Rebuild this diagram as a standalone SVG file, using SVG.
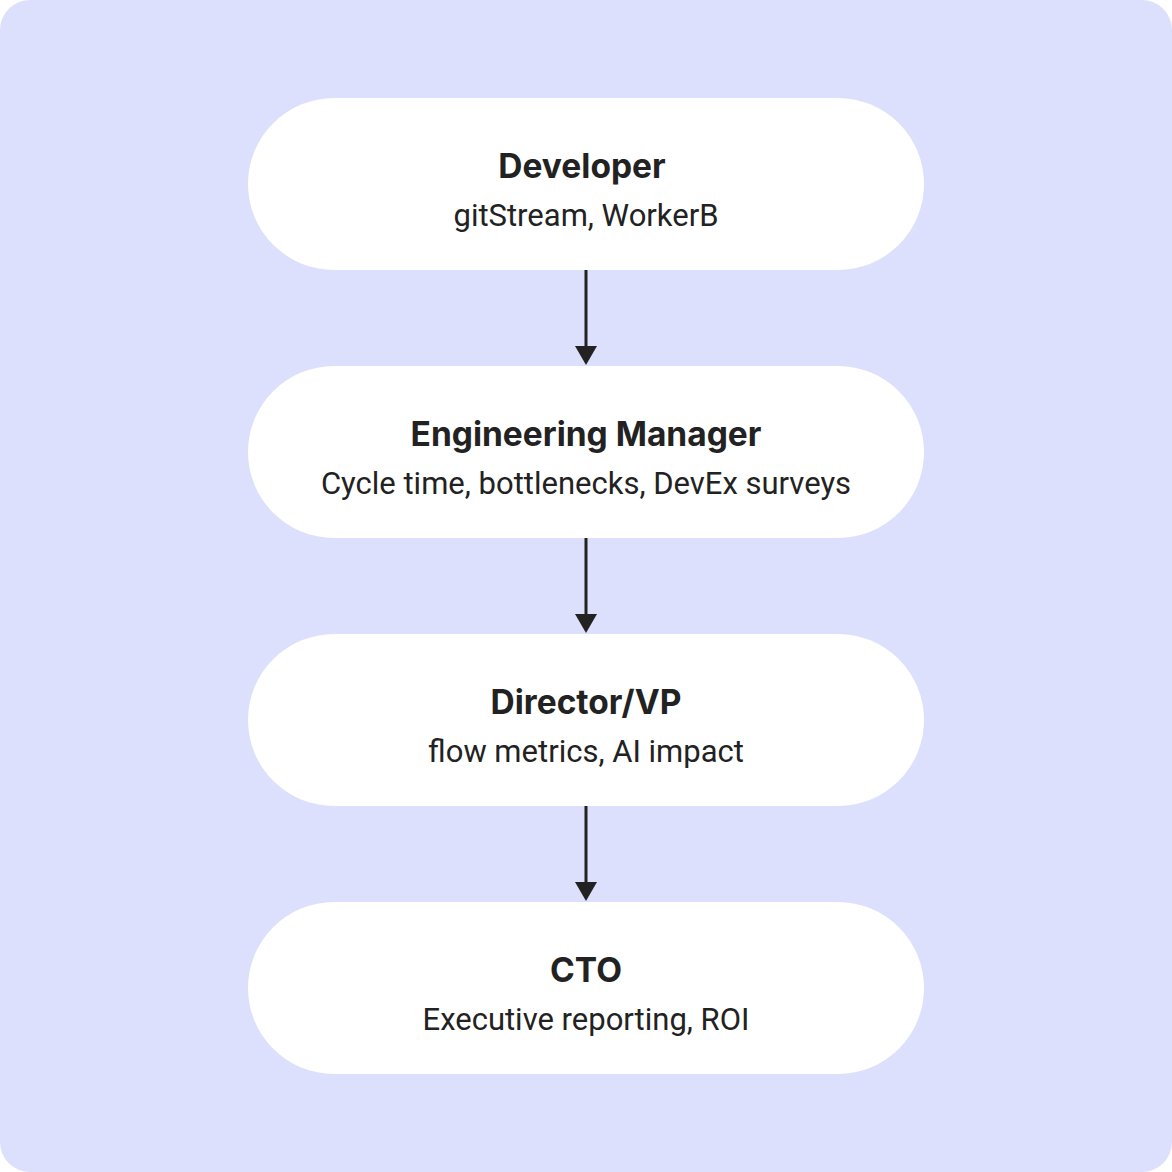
<svg xmlns="http://www.w3.org/2000/svg" width="1172" height="1172" viewBox="0 0 1172 1172">
<style>
.node{fill:#ffffff}
.t{font-family:Inter,"Liberation Sans",sans-serif;font-weight:700;font-size:33.5px;fill:#222;text-anchor:middle}
.s{font-family:Roboto,"Liberation Sans",sans-serif;font-size:31px;fill:#222;text-anchor:middle}
.c{stroke:#222;stroke-width:3;fill:none}
.ah{fill:#222}
</style>
<rect x="0" y="0" width="1172" height="1172" rx="30" fill="#DDE0FC"/>
<g id="connectors">
<line class="c" x1="586" y1="270" x2="586" y2="346"/><path class="ah" d="M575,346L597,346L586,365z"/>
<line class="c" x1="586" y1="538" x2="586" y2="614"/><path class="ah" d="M575,614L597,614L586,633z"/>
<line class="c" x1="586" y1="806" x2="586" y2="882"/><path class="ah" d="M575,882L597,882L586,901z"/>
</g>
<g id="developer"><rect class="node" x="248" y="98" width="676" height="172" rx="86"/><text class="t" x="582" y="178">Developer</text><text class="s" x="586" y="226">gitStream, WorkerB</text></g>
<g id="em"><rect class="node" x="248" y="366" width="676" height="172" rx="86"/><text class="t" x="586" y="446">Engineering Manager</text><text class="s" x="586" y="494">Cycle time, bottlenecks, DevEx surveys</text></g>
<g id="director"><rect class="node" x="248" y="634" width="676" height="172" rx="86"/><text class="t" x="586" y="714">Director/VP</text><text class="s" x="586" y="762">flow metrics, AI impact</text></g>
<g id="cto"><rect class="node" x="248" y="902" width="676" height="172" rx="86"/><text class="t" x="586" y="982">CTO</text><text class="s" x="586" y="1030">Executive reporting, ROI</text></g>
</svg>
